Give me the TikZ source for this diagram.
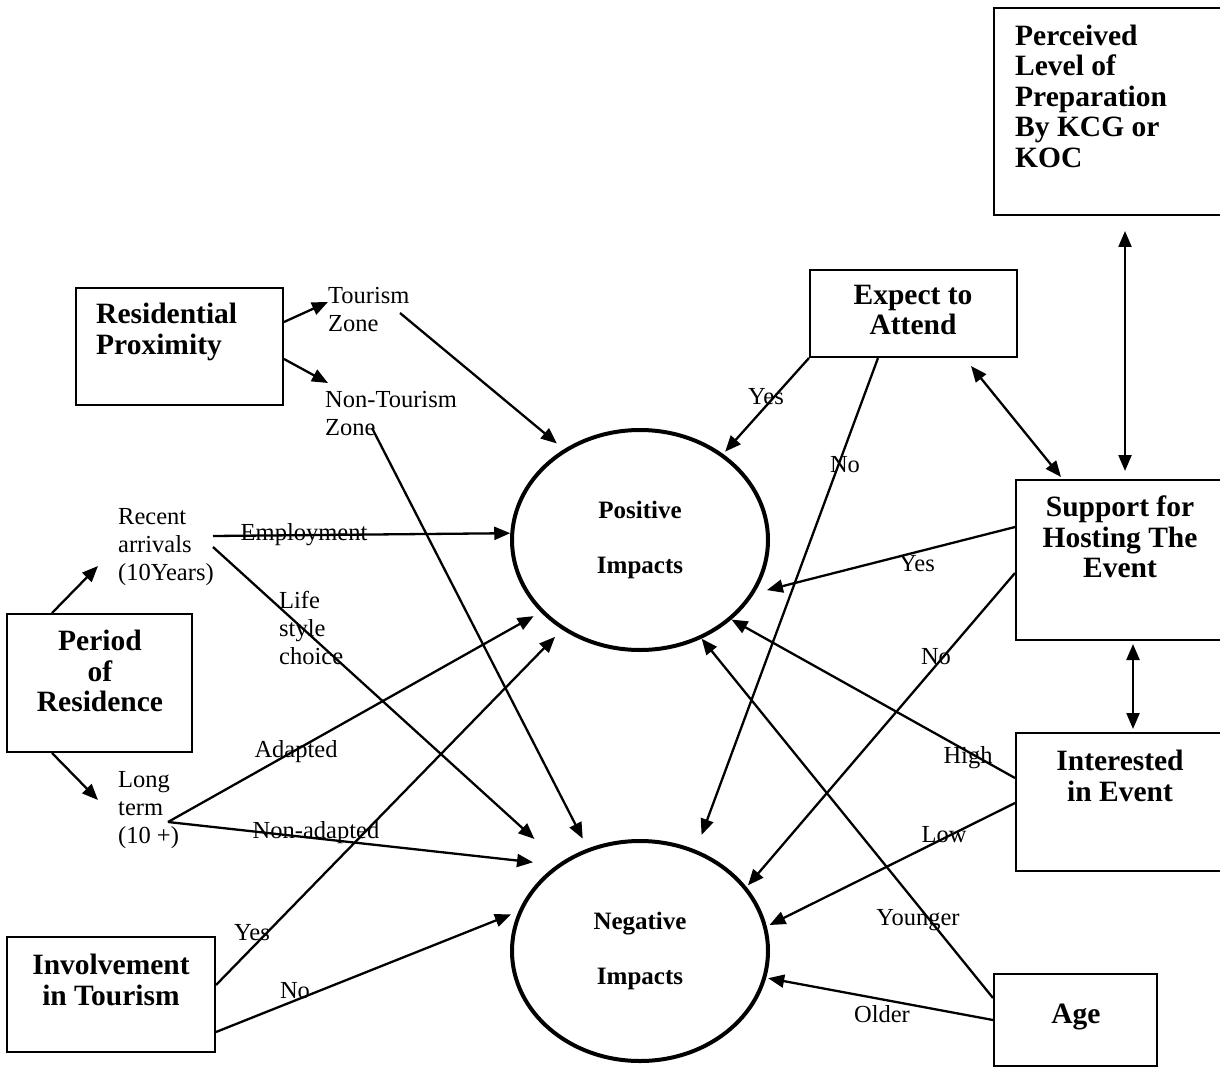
\documentclass[tikz,border=0pt]{standalone}
\usepackage{fontspec}
\setmainfont{Liberation Serif}
\usetikzlibrary{arrows.meta}
\usetikzlibrary{shapes.geometric}

\begin{document}
\begin{tikzpicture}[x=1pt, y=-1pt,
    box/.style={draw, line width=2pt, inner sep=0pt},
    head/.style={font=\fontsize{29.5}{30.5}\selectfont\bfseries, align=center, inner sep=0pt},
    word/.style={font=\fontsize{24.5}{28}\selectfont, align=left, inner sep=0pt},
    impact/.style={ellipse, draw, line width=4pt, inner sep=0pt, minimum width=256, minimum height=220,
      font=\fontsize{25}{55}\selectfont\bfseries, align=center},
    arr/.style={-{Triangle[length=16pt, width=13pt]}, line width=2.3pt},
    twoway/.style={{Triangle[length=16pt, width=13pt]}-{Triangle[length=16pt, width=13pt]}, line width=2.3pt}]

    \useasboundingbox (0,0) rectangle (1220,1067);

    % boxes
    \node[box, minimum width=228, minimum height=207] (perc) at (1108,111.5) {};
    \node[box, minimum width=207, minimum height=117] (res) at (179.5,346.5) {};
    \node[box, minimum width=207, minimum height=87] (expect) at (913.5,313.5) {};
    \node[box, minimum width=206, minimum height=160] (support) at (1119,560) {};
    \node[box, minimum width=206, minimum height=138] (interested) at (1119,802) {};
    \node[box, minimum width=163, minimum height=92] (age) at (1075.5,1020) {};
    \node[box, minimum width=185, minimum height=138] (period) at (99.5,683) {};
    \node[box, minimum width=208, minimum height=115] (inv) at (111,994.5) {};

    \node[head, align=left, anchor=west] (percT) at (1015,96) {Perceived\\Level of\\Preparation\\By KCG or\\KOC};
    \node[head, align=left, anchor=west] (resT) at (96,332) {Residential\\Proximity};
    \node[head] (expectT) at (913,310) {Expect to\\Attend};
    \node[head] (supportT) at (1120,537) {Support for\\Hosting The\\Event};
    \node[head] (interestedT) at (1120,776) {Interested\\in Event};
    \node[head] (ageT) at (1076,1017) {Age};
    \node[head] (periodT) at (100,671) {Period\\of\\Residence};
    \node[head] (invT) at (111,980) {Involvement\\in Tourism};

    % impacts
    \node[impact] (pos) at (640,540) {Positive\\Impacts};
    \node[impact] (neg) at (640,951) {Negative\\Impacts};

    % groups
    \node[word, anchor=west] (tz) at (328,310) {Tourism\\Zone};
    \node[word, anchor=west] (ntz) at (325,414) {Non-Tourism\\Zone};
    \node[word, anchor=west] (recent) at (118,547) {Recent\\arrivals\\(10Years)};
    \node[word, anchor=west] (long) at (118,810) {Long\\term\\(10 +)};

    % labels
    \node[word] (lblEmp) at (304,535) {Employment};
    \node[word, anchor=west] (lblLife) at (279,628) {Life\\style\\choice};
    \node[word] (lblAdapt) at (296,752) {Adapted};
    \node[word] (lblNonAdapt) at (316,833) {Non-adapted};
    \node[word] (lblInvYes) at (252,933) {Yes};
    \node[word] (lblInvNo) at (295,991) {No};
    \node[word] (lblExpYes) at (766,397) {Yes};
    \node[word] (lblExpNo) at (845,465) {No};
    \node[word] (lblSupYes) at (917,564) {Yes};
    \node[word] (lblSupNo) at (936,657) {No};
    \node[word] (lblHigh) at (968,758) {High};
    \node[word] (lblLow) at (944,835) {Low};
    \node[word] (lblYoung) at (918,920) {Younger};
    \node[word] (lblOld) at (882,1014) {Older};

    % connectors
    \draw[arr] ([yshift=24.5pt]res.east) -- ([yshift=8pt]tz.west);
    \draw[arr] ([yshift=-12.5pt]res.east) -- ([shift={(3pt,31pt)}]ntz.west);
    \draw[arr, shorten >=9pt] ([shift={(72pt,-3pt)}]tz.west) -- (pos.130.8);
    \draw[arr, shorten >=11pt] ([shift={(47pt,-14pt)}]ntz.west) -- (neg.117.9);

    \draw[arr] ([xshift=-47.5pt]period.north) -- ([shift={(-20pt,-19pt)}]recent.west);
    \draw[arr] ([xshift=-47.5pt]period.south) -- ([shift={(-20pt,10pt)}]long.west);
    \draw[arr] ([shift={(95pt,11pt)}]recent.west) -- (pos.177.8);
    \draw[arr, shorten >=35pt] ([xshift=95pt]recent.west) -- (neg.132.6);
    \draw[arr, shorten >=8pt] ([shift={(50pt,-12pt)}]long.west) -- (pos.216.2);
    \draw[arr, shorten >=24pt] ([shift={(50pt,-12pt)}]long.west) -- (neg.134);

    \draw[arr, shorten >=10pt] ([yshift=9.5pt]inv.east) -- (pos.229.9);
    \draw[arr, shorten >=8pt] ([yshift=-37.5pt]inv.east) -- (neg.162.4);

    \draw[arr, shorten >=3pt] (expect.south west) -- (pos.46.4);
    \draw[arr, shorten >=16pt] ([xshift=-35.5pt]expect.south) -- (neg.61.4);
    \draw[twoway] ([shift={(-47pt,-8pt)}]expect.south east) -- ([shift={(46pt,2pt)}]support.north west);
    \draw[twoway] ([shift={(17pt,-15pt)}]perc.south) -- ([shift={(6pt,8pt)}]support.north);

    \draw[arr, shorten >=13pt] ([yshift=33pt]support.west) -- (pos.335.7);
    \draw[arr, shorten >=2pt] ([yshift=-13pt]support.west) -- (neg.31.4);
    \draw[twoway] ([shift={(14pt,-3pt)}]support.south) -- ([shift={(14pt,3pt)}]interested.north);

    \draw[arr] ([yshift=24pt]interested.west) -- (pos.319.9);
    \draw[arr, shorten >=3pt] ([yshift=-1pt]interested.west) -- (neg.11);
    \draw[arr] ([yshift=22pt]age.west) -- (pos.302.8);
    \draw[arr, shorten >=2pt] (age.west) -- (neg.348.3);
\end{tikzpicture}
\end{document}
